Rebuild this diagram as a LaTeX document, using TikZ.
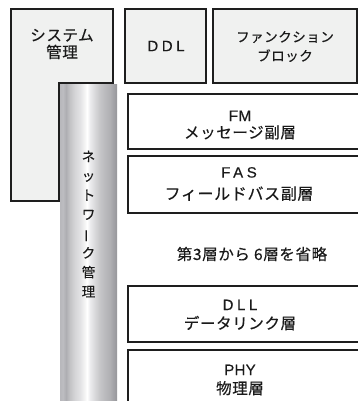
\documentclass[tikz,border=0pt]{standalone}
\usepackage{fontspec}
\usepackage{graphicx}
\setmainfont{Noto Sans CJK JP}[LetterSpace=4, FakeBold=0.35]
\newfontfamily\latA{Liberation Sans}[LetterSpace=2, FakeBold=0.3]
\newfontfamily\latB{Liberation Sans}[LetterSpace=24, FakeBold=0.3]
\definecolor{lc}{HTML}{1E1E1E}
\definecolor{bgc}{HTML}{F0F1F0}
\definecolor{txt}{HTML}{1A1A1A}
\definecolor{p0}{HTML}{B8B8BC}
\definecolor{p1}{HTML}{BCBCC0}
\definecolor{p2}{HTML}{AEAEB2}
\definecolor{p3}{HTML}{C4C4C6}
\definecolor{p4}{HTML}{D6D6D8}
\definecolor{p5}{HTML}{E2E2E4}
\definecolor{p6}{HTML}{F2F2F2}
\definecolor{p7}{HTML}{FFFFFF}
\definecolor{p8}{HTML}{ECECEE}
\definecolor{p9}{HTML}{D8D8DA}
\definecolor{p10}{HTML}{C6C6C8}
\definecolor{p11}{HTML}{BABABD}
\definecolor{p12}{HTML}{B0B0B3}
\definecolor{p13}{HTML}{A4A4A8}
\definecolor{p14}{HTML}{96969A}
\pgfdeclarehorizontalshading{pillar}{100bp}{color(0bp)=(p0); color(25bp)=(p0); color(27.6bp)=(p1); color(30.3bp)=(p2); color(33.8bp)=(p3); color(38.2bp)=(p4); color(42.5bp)=(p5); color(46bp)=(p6); color(48.7bp)=(p7); color(51.3bp)=(p8); color(55.7bp)=(p9); color(60bp)=(p10); color(64.5bp)=(p11); color(68.9bp)=(p12); color(71.5bp)=(p13); color(75bp)=(p14); color(100bp)=(p14)}
\begin{document}
\begin{tikzpicture}[x=1pt,y=-1pt,
  boxline/.style={draw=lc, line width=1.6pt},
  graybox/.style={boxline, fill=bgc, inner sep=0pt},
  layerbox/.style={boxline, fill=white, inner sep=0pt, anchor=north west},
  lbl/.style={text=txt, align=center, inner sep=0pt}]
\useasboundingbox (0,0) rectangle (358,401);
% system management L-shape
\draw[graybox] (11,9) -- (113,9) -- (113,83) -- (59,83) -- (59,201) -- (11,201) -- cycle;
\node[lbl, font=\fontsize{15.5}{17}\selectfont] (sys) at (62,44) {システム\\管理};
% network management pillar
\path[shading=pillar] (60,85) rectangle (117,405);
\node[lbl, font=\fontsize{13.5}{19.3}\selectfont] (nm) at (88.5,224) {ネ\\ッ\\ト\\ワ\\\rotatebox[origin=c]{90}{ー}\\ク\\管\\理};
% top boxes
\node[graybox, minimum width=81pt, minimum height=74pt] (ddl) at (165.5,46) {};
\node[lbl, font=\latB\fontsize{15}{16}\selectfont] (ddlt) at (166,46) {DDL};
\node[graybox, minimum width=144pt, minimum height=74pt] (fb) at (285,46) {};
\node[lbl, font=\fontsize{13.5}{19}\selectfont] (fbt) at (285,46.5) {ファンクション\\ブロック};
% layers
\node[layerbox, minimum width=250pt, minimum height=55pt] (fm) at (127,93) {};
\node[lbl, font=\fontsize{15.5}{17}\selectfont] (fmt) at (240,125) {{\latA FM}\\メッセージ副層};
\node[layerbox, minimum width=250pt, minimum height=57pt] (fas) at (127,155) {};
\node[lbl, font=\fontsize{16}{22}\selectfont] (fast) at (239,184) {{\latB\fontsize{15}{22}\selectfont FAS}\\フィールドバス副層};
\node[lbl, font=\fontsize{15.5}{18}\selectfont] (omit) at (252,254) {第3層から 6層を省略};
\node[layerbox, minimum width=250pt, minimum height=56pt] (dll) at (127,285) {};
\node[lbl, font=\fontsize{15.5}{19}\selectfont] (dllt) at (240,315) {{\latB\fontsize{15}{19}\selectfont DLL}\\データリンク層};
\node[layerbox, minimum width=250pt, minimum height=80pt] (phy) at (127,349) {};
\node[lbl, font=\fontsize{15.5}{19}\selectfont] (phyt) at (240,380) {{\latA\fontsize{15}{19}\selectfont PHY}\\物理層};
\end{tikzpicture}
\end{document}
